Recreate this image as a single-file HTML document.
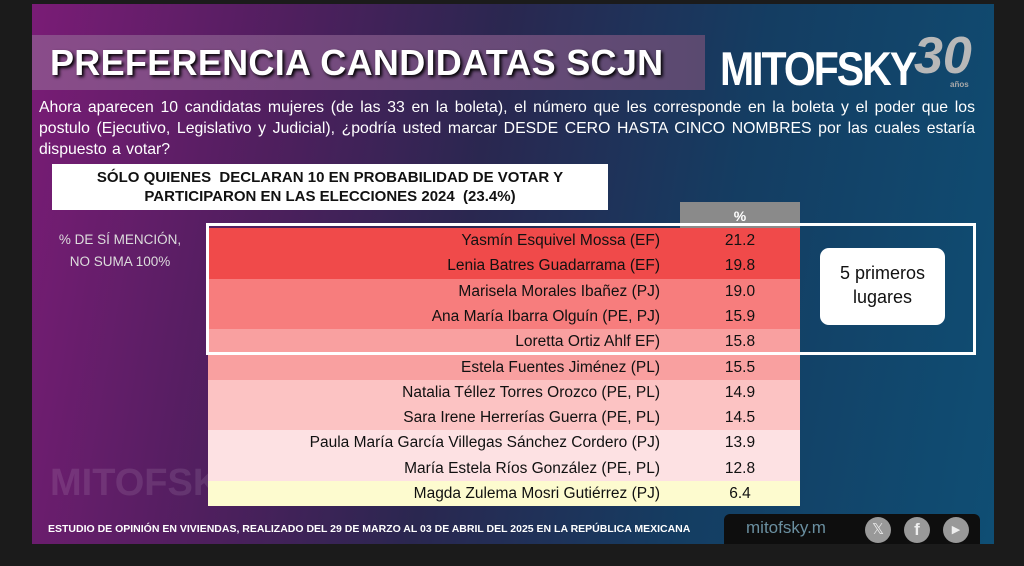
<!DOCTYPE html>
<html><head><meta charset="utf-8"><style>
*{margin:0;padding:0;box-sizing:border-box}
body{width:1024px;height:566px;background:#1b1b1b;position:relative;overflow:hidden;font-family:"Liberation Sans",Arial,sans-serif}
#slide{position:absolute;left:32px;top:4px;width:962px;height:540px;background:linear-gradient(100deg,#7a1c76 0%,#4f1f5e 25%,#2a2750 45%,#143d62 70%,#0f4e74 100%)}
.abs{position:absolute}
#title{left:32px;top:35px;width:673px;height:55px;background:linear-gradient(90deg,#8a4c8a,#5a4a70);color:#fff;font-size:36px;line-height:55px;padding-left:18px;text-shadow:2px 2px 3px #000;letter-spacing:0.3px;font-weight:bold}
#q{left:39px;top:97px;width:936px;color:#fff;font-size:15.8px;line-height:21px;text-align:justify;word-spacing:1px}
#sub{left:52px;top:164px;width:556px;height:46px;background:#fff;color:#111;font-weight:bold;font-size:15px;text-align:center;line-height:19px;padding-top:4px}
#note{left:40px;top:229px;width:160px;color:#ddd;font-size:13.5px;text-align:center;line-height:22px}
#hdr{left:680px;top:202px;width:120px;height:26px;background:#8a8a8a;color:#fff;text-align:center;font-weight:bold;font-size:14px;line-height:28px}
.row{position:absolute;left:208px;width:592px;height:25.3px;font-size:15.5px;color:#111;line-height:25.3px}
.row .n{position:absolute;right:140px;white-space:nowrap}
.row .v{position:absolute;left:492px;width:80px;text-align:center}
#frame{left:206px;top:223px;width:770px;height:132px;border:3px solid #fff}
#top5{left:820px;top:248px;width:125px;height:77px;background:#fff;border-radius:9px;text-align:center;font-size:18px;line-height:24px;padding-top:13px;color:#111}
#foot{left:48px;top:523px;color:#fff;font-size:10.5px;font-weight:bold}
#bar{left:724px;top:514px;width:256px;height:30px;background:#0e0e0e;border-radius:6px 6px 0 0}
</style></head><body>
<div id="slide"></div>
<div class="abs" style="left:50px;top:462px;color:rgba(255,255,255,0.1);font-size:38px;font-weight:bold">MITOFSKY</div>
<div class="abs" id="title">PREFERENCIA CANDIDATAS SCJN</div>
<div class="abs" style="left:720px;top:46px;color:#fff;font-size:41px;font-weight:bold;letter-spacing:-2px;transform:scaleY(1.15)">MITOFSKY</div>
<div class="abs" style="left:914px;top:26px;color:#b8b8b8;font-size:52px;font-weight:bold;font-style:italic">30</div>
<div class="abs" style="left:950px;top:80px;color:#aaa;font-size:8px;font-weight:bold">años</div>
<div class="abs" id="q">Ahora aparecen 10 candidatas mujeres (de las 33 en la boleta), el número que les corresponde en la boleta y el poder que los postulo (Ejecutivo, Legislativo y Judicial), ¿podría usted marcar DESDE CERO HASTA CINCO NOMBRES por las cuales estaría dispuesto a votar?</div>
<div class="abs" id="sub">SÓLO QUIENES&nbsp; DECLARAN 10 EN PROBABILIDAD DE VOTAR Y<br>PARTICIPARON EN LAS ELECCIONES 2024&nbsp; (23.4%)</div>
<div class="abs" id="note">% DE SÍ MENCIÓN,<br>NO SUMA 100%</div>
<div class="abs" id="hdr">%</div>
<div class="row" style="top:228px;background:#f04a4a"><span class="n">Yasmín Esquivel Mossa (EF)</span><span class="v">21.2</span></div>
<div class="row" style="top:253.3px;background:#f04a4a"><span class="n">Lenia Batres Guadarrama (EF)</span><span class="v">19.8</span></div>
<div class="row" style="top:278.6px;background:#f77d7d"><span class="n">Marisela Morales Ibañez (PJ)</span><span class="v">19.0</span></div>
<div class="row" style="top:303.9px;background:#f77d7d"><span class="n">Ana María Ibarra Olguín (PE, PJ)</span><span class="v">15.9</span></div>
<div class="row" style="top:329.2px;background:#f9a0a0"><span class="n">Loretta Ortiz Ahlf EF)</span><span class="v">15.8</span></div>
<div class="row" style="top:354.5px;background:#f9a0a0"><span class="n">Estela Fuentes Jiménez (PL)</span><span class="v">15.5</span></div>
<div class="row" style="top:379.8px;background:#fcc3c3"><span class="n">Natalia Téllez Torres Orozco (PE, PL)</span><span class="v">14.9</span></div>
<div class="row" style="top:405.1px;background:#fcc3c3"><span class="n">Sara Irene Herrerías Guerra (PE, PL)</span><span class="v">14.5</span></div>
<div class="row" style="top:430.4px;background:#fde1e3"><span class="n">Paula María García Villegas Sánchez Cordero (PJ)</span><span class="v">13.9</span></div>
<div class="row" style="top:455.7px;background:#fde1e3"><span class="n">María Estela Ríos González (PE, PL)</span><span class="v">12.8</span></div>
<div class="row" style="top:481px;background:#fdfbcf"><span class="n">Magda Zulema Mosri Gutiérrez (PJ)</span><span class="v">6.4</span></div>
<div class="abs" id="frame"></div>
<div class="abs" id="top5">5 primeros<br>lugares</div>
<div class="abs" id="foot">ESTUDIO DE OPINIÓN EN VIVIENDAS, REALIZADO DEL 29 DE MARZO AL 03 DE ABRIL DEL 2025 EN LA REPÚBLICA MEXICANA</div>
<div class="abs" id="bar"></div>
<div class="abs" style="left:746px;top:518px;color:#6a8fa0;font-size:17px">mitofsky.m</div>
<div class="abs" style="left:865px;top:517px;width:26px;height:26px;border-radius:50%;background:#999;color:#eee;text-align:center;line-height:26px;font-size:15px">𝕏</div>
<div class="abs" style="left:904px;top:517px;width:26px;height:26px;border-radius:50%;background:#999;color:#eee;text-align:center;line-height:26px;font-size:17px;font-weight:bold">f</div>
<div class="abs" style="left:943px;top:517px;width:26px;height:26px;border-radius:50%;background:#999;color:#eee;text-align:center;line-height:26px;font-size:11px">▶</div>
</body></html>
